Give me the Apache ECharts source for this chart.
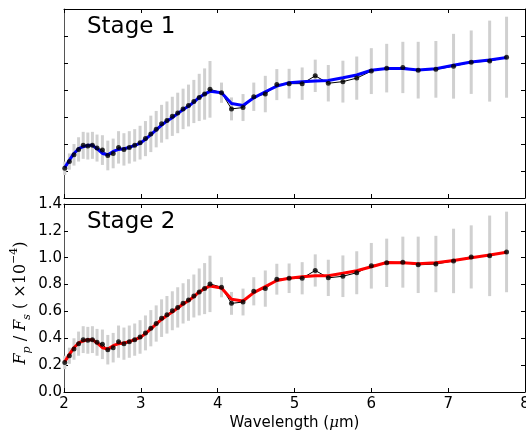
<!DOCTYPE html>
<html>
<head>
<meta charset="utf-8">
<script src="https://cdn.jsdelivr.net/npm/echarts@6/dist/echarts.min.js"></script>
<style>
  html, body { margin: 0; padding: 0; background: #fff; }
  #chart { width: 526px; height: 433px; }
</style>
</head>
<body>
<div id="chart"></div>
<script>
// wavelength of each spectral bin (um)
const wave = [2.01, 2.07, 2.13, 2.19, 2.25, 2.31, 2.37, 2.43, 2.50, 2.57,
  2.64, 2.71, 2.78, 2.85, 2.92, 2.99, 3.06, 3.13, 3.20, 3.27,
  3.34, 3.41, 3.48, 3.55, 3.62, 3.69, 3.76, 3.83, 3.90, 4.05,
  4.18, 4.33, 4.47, 4.62, 4.77, 4.93, 5.10, 5.27, 5.44, 5.63,
  5.81, 6.00, 6.20, 6.41, 6.61, 6.84, 7.07, 7.30, 7.54, 7.76];

// measured depth (black points), same in both panels
const depth = [0.22, 0.27, 0.32, 0.36, 0.39, 0.385, 0.39, 0.37, 0.355, 0.315,
  0.33, 0.375, 0.36, 0.375, 0.39, 0.41, 0.44, 0.475, 0.51, 0.55,
  0.575, 0.605, 0.63, 0.66, 0.685, 0.715, 0.745, 0.77, 0.805, 0.78,
  0.66, 0.67, 0.75, 0.77, 0.84, 0.847, 0.847, 0.905, 0.85, 0.862,
  0.888, 0.94, 0.962, 0.967, 0.947, 0.953, 0.976, 1.006, 1.014, 1.043];

// half length of the error bars
const err = [0.05, 0.06, 0.08, 0.09, 0.10, 0.10, 0.10, 0.10, 0.11, 0.11,
  0.11, 0.12, 0.12, 0.12, 0.12, 0.125, 0.13, 0.135, 0.135, 0.14,
  0.14, 0.145, 0.15, 0.15, 0.155, 0.16, 0.175, 0.19, 0.21, 0.075,
  0.085, 0.10, 0.105, 0.135, 0.115, 0.11, 0.12, 0.12, 0.135, 0.155,
  0.16, 0.17, 0.18, 0.19, 0.21, 0.21, 0.24, 0.235, 0.30, 0.30];

// fitted model, stage 1 (blue)
const fit1 = [0.225, 0.28, 0.33, 0.365, 0.38, 0.39, 0.39, 0.365, 0.33, 0.32,
  0.345, 0.36, 0.365, 0.375, 0.39, 0.405, 0.435, 0.47, 0.505, 0.54,
  0.57, 0.595, 0.625, 0.655, 0.68, 0.71, 0.745, 0.77, 0.79, 0.78,
  0.70, 0.685, 0.742, 0.787, 0.829, 0.854, 0.861, 0.866, 0.871, 0.891,
  0.911, 0.946, 0.96, 0.96, 0.948, 0.958, 0.983, 1.007, 1.022, 1.04];

// fitted model, stage 2 (red)
const fit2 = [0.225, 0.28, 0.33, 0.365, 0.38, 0.39, 0.39, 0.365, 0.33, 0.32,
  0.345, 0.36, 0.365, 0.375, 0.39, 0.405, 0.435, 0.47, 0.505, 0.54,
  0.57, 0.595, 0.625, 0.655, 0.68, 0.71, 0.745, 0.77, 0.79, 0.775,
  0.69, 0.678, 0.74, 0.785, 0.83, 0.847, 0.859, 0.866, 0.866, 0.884,
  0.903, 0.933, 0.964, 0.962, 0.955, 0.962, 0.98, 1.0, 1.02, 1.04];

const xTicks = [2, 3, 4, 5, 6, 7, 8];
const yTicks = [0.0, 0.2, 0.4, 0.6, 0.8, 1.0, 1.2, 1.4];

const chart = echarts.init(document.getElementById('chart'));

const pts = wave.map((w, i) => [w, depth[i]]);
const bars = wave.map((w, i) => [w, depth[i] - err[i], depth[i] + err[i]]);

// 误差棒
function errorBars(params, api) {
  const x = api.value(0);
  const p1 = api.coord([x, api.value(1)]);
  const p2 = api.coord([x, api.value(2)]);
  return {
    type: 'line',
    shape: { x1: p1[0], y1: p1[1], x2: p2[0], y2: p2[1] },
    style: { stroke: '#d0d0d0', lineWidth: 3 }
  };
}

function xAxisFor(grid, pos, labels) {
  return {
    type: 'value', gridIndex: grid, position: pos,
    min: xTicks[0], max: xTicks[xTicks.length - 1], interval: 1,
    axisLine: { show: true, onZero: false, lineStyle: { color: '#000', width: 1 } },
    axisTick: { show: true, inside: true, length: 4, lineStyle: { color: '#000' } },
    axisLabel: { show: labels, color: '#000', fontSize: 15, margin: 5,
      fontFamily: 'DejaVu Sans' },
    splitLine: { show: false }
  };
}

function yAxisFor(grid, pos, labels, color) {
  return {
    type: 'value', gridIndex: grid, position: pos,
    min: yTicks[0], max: yTicks[yTicks.length - 1], interval: 0.2,
    axisLine: { show: true, onZero: false, lineStyle: { color: color, width: 1 } },
    axisTick: { show: true, inside: true, length: 4, lineStyle: { color: '#000' } },
    axisLabel: { show: labels, color: '#000', fontSize: 15, margin: 2,
      fontFamily: 'DejaVu Sans', formatter: v => v.toFixed(1) },
    splitLine: { show: false }
  };
}

function panelSeries(idx, fit, color) {
  return [
    {
      type: 'custom', xAxisIndex: idx * 2, yAxisIndex: idx * 2,
      renderItem: errorBars, data: bars, encode: { x: 0, y: [1, 2] }, z: 1, silent: true
    },
    {
      type: 'line', xAxisIndex: idx * 2, yAxisIndex: idx * 2, data: pts,
      symbol: 'none', lineStyle: { color: '#000', width: 1 }, z: 2
    },
    {
      type: 'line', xAxisIndex: idx * 2, yAxisIndex: idx * 2,
      data: wave.map((w, i) => [w, fit[i]]),
      symbol: 'none', lineStyle: { color: color, width: 3 }, z: 3
    },
    {
      type: 'scatter', xAxisIndex: idx * 2, yAxisIndex: idx * 2, data: pts,
      symbolSize: 5, itemStyle: { color: '#000' }, z: 4
    }
  ];
}

// y 轴标题 (rotated, drawn as graphic text)
const yTitleRich = {
  i: { fontFamily: 'DejaVu Serif', fontStyle: 'italic', fontSize: 16, lineHeight: 24, fill: '#000' },
  n: { fontFamily: 'DejaVu Serif', fontSize: 16, lineHeight: 24, fill: '#000' },
  s: { fontFamily: 'DejaVu Serif', fontStyle: 'italic', fontSize: 11, lineHeight: 14,
    verticalAlign: 'bottom', fill: '#000' },
  u: { fontFamily: 'DejaVu Serif', fontSize: 11, lineHeight: 14,
    verticalAlign: 'top', fill: '#000' }
};

const xMain2 = xAxisFor(1, 'bottom', true);
xMain2.name = '{a|Wavelength (}{m|μ}{a|m)}';
xMain2.nameLocation = 'middle';
xMain2.nameGap = 24;
xMain2.nameTextStyle = {
  rich: {
    a: { fontFamily: 'DejaVu Sans', fontSize: 15, color: '#000' },
    m: { fontFamily: 'DejaVu Serif', fontStyle: 'italic', fontSize: 15, color: '#000' }
  }
};

const option = {
  animation: false,
  backgroundColor: '#fff',
  grid: [
    { left: 64, top: 9, width: 461, height: 189, outerBoundsMode: 'none' },
    { left: 64, top: 204, width: 461, height: 188, outerBoundsMode: 'none' }
  ],
  xAxis: [
    xAxisFor(0, 'bottom', false), xAxisFor(0, 'top', false),
    xMain2, xAxisFor(1, 'top', false)
  ],
  yAxis: [
    yAxisFor(0, 'left', false, '#555'), yAxisFor(0, 'right', false, '#000'),
    yAxisFor(1, 'left', true, '#555'), yAxisFor(1, 'right', false, '#000')
  ],
  graphic: [
    { type: 'text', left: 87, top: 16,
      style: { text: 'Stage 1', fontSize: 23, fontFamily: 'DejaVu Sans', fill: '#000' } },
    { type: 'text', left: 87, top: 211,
      style: { text: 'Stage 2', fontSize: 23, fontFamily: 'DejaVu Sans', fill: '#000' } },
    { type: 'text', x: 21, y: 303, rotation: Math.PI / 2,
      style: {
        text: '{i|F}{s|p}{n| / }{i|F}{s|s}{n| ( ×10}{u|−4}{n|)}',
        rich: yTitleRich, align: 'center', verticalAlign: 'middle'
      } }
  ],
  series: [].concat(panelSeries(0, fit1, '#0000ff'), panelSeries(1, fit2, '#ff0000'))
};

chart.setOption(option);
</script>
</body>
</html>
